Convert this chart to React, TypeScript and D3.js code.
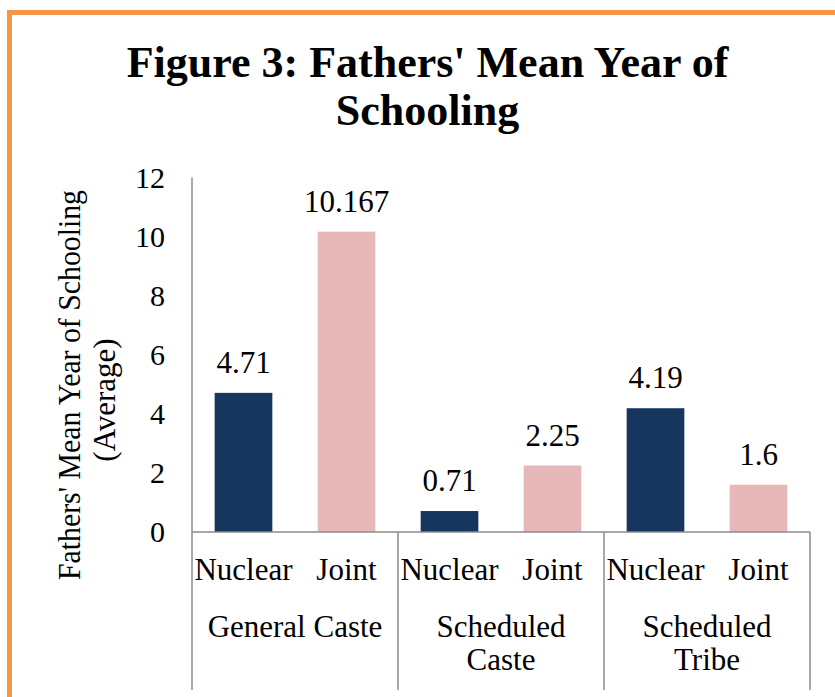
import React from "react";
import * as d3 from "d3";

const groups = [
  { name: "General Caste", lines: ["General Caste"] },
  { name: "Scheduled Caste", lines: ["Scheduled", "Caste"] },
  { name: "Scheduled Tribe", lines: ["Scheduled", "Tribe"] },
];
const familyTypes = ["Nuclear", "Joint"];
const values = [4.71, 10.167, 0.71, 2.25, 4.19, 1.6];
const valueLabels = ["4.71", "10.167", "0.71", "2.25", "4.19", "1.6"];
const yTicks = [0, 2, 4, 6, 8, 10, 12];
const titleLines = ["Figure 3: Fathers' Mean Year of", "Schooling"];
const yTitleLines = ["Fathers' Mean Year of Schooling", "(Average)"];

const W = 835;
const H = 697;
const FONT = "Liberation Serif";
const NAVY = "#17365D";
const PINK = "#E6B9B8";
const AXIS = "#8C8C8C";
const TS: React.CSSProperties = { fontFamily: FONT };

export default function App() {
  const left = 192;
  const right = 810;
  const baseY = 532;

  const y = d3.scaleLinear().domain([0, 12]).range([baseY, 177.5]);
  const keys = values.map((_, i) => `${i}`);
  const x = d3.scaleBand<string>().domain(keys).range([left, right]).padding(0);
  const gx = d3
    .scaleBand<string>()
    .domain(groups.map((g) => g.name))
    .range([left, right])
    .padding(0);
  const barW = x.bandwidth() * 0.56;

  return (
    <svg
      width={W}
      height={H}
      style={{ position: "absolute", left: 0, top: 0, background: "#fff" }}
    >
      <rect x={0} y={0} width={W} height={H} fill="#fff" />
      <rect
        x={9.5}
        y={12.5}
        width={1000}
        height={1000}
        fill="none"
        stroke="#F79646"
        strokeWidth={5}
      />
      {titleLines.map((t, i) => (
        <text
          key={t}
          x={427.5}
          y={77 + i * 48}
          textAnchor="middle"
          fontSize={44}
          fontWeight="bold"
          fill="#000"
          style={TS}
        >
          {t}
        </text>
      ))}

      {/* y axis title */}
      <text
        transform={`translate(80,385) rotate(-90)`}
        textAnchor="middle"
        fontSize={31}
        fill="#000"
        textLength={390}
        lengthAdjust="spacingAndGlyphs"
        style={TS}
      >
        {yTitleLines[0]}
      </text>
      <text
        transform={`translate(115,400) rotate(-90)`}
        textAnchor="middle"
        fontSize={31}
        fill="#000"
        style={TS}
      >
        {yTitleLines[1]}
      </text>

      {/* y tick labels */}
      {yTicks.map((t) => (
        <text
          key={t}
          x={165}
          y={y(t)}
          dy="0.34em"
          textAnchor="end"
          fontSize={30}
          fill="#000"
          style={TS}
        >
          {t}
        </text>
      ))}

      {/* bars */}
      {values.map((v, i) => {
        const cx = (x(`${i}`) as number) + x.bandwidth() / 2;
        return (
          <g key={i}>
            <rect
              x={cx - barW / 2}
              y={y(v)}
              width={barW}
              height={baseY - y(v)}
              fill={i % 2 === 0 ? NAVY : PINK}
            />
            <text
              x={cx}
              y={y(v) - 20}
              textAnchor="middle"
              fontSize={31}
              fill="#000"
              style={TS}
            >
              {valueLabels[i]}
            </text>
            <text
              x={cx}
              y={580}
              textAnchor="middle"
              fontSize={31}
              fill="#000"
              style={TS}
            >
              {familyTypes[i % 2]}
            </text>
          </g>
        );
      })}

      {/* axes */}
      <line x1={left} x2={left} y1={177.5} y2={baseY} stroke={AXIS} strokeWidth={1.5} />
      <line x1={left} x2={right} y1={baseY} y2={baseY} stroke={AXIS} strokeWidth={1.5} />
      {[left, ...groups.map((g) => (gx(g.name) as number) + gx.bandwidth())].map((sx, i) => (
        <line key={i} x1={sx} x2={sx} y1={baseY} y2={690} stroke={AXIS} strokeWidth={1.5} />
      ))}

      {/* group labels */}
      {groups.map((g) => {
        const cx = (gx(g.name) as number) + gx.bandwidth() / 2;
        return g.lines.map((ln, j) => (
          <text
            key={g.name + j}
            x={cx}
            y={637 + j * 33}
            textAnchor="middle"
            fontSize={31}
            fill="#000"
            style={TS}
          >
            {ln}
          </text>
        ));
      })}
    </svg>
  );
}
